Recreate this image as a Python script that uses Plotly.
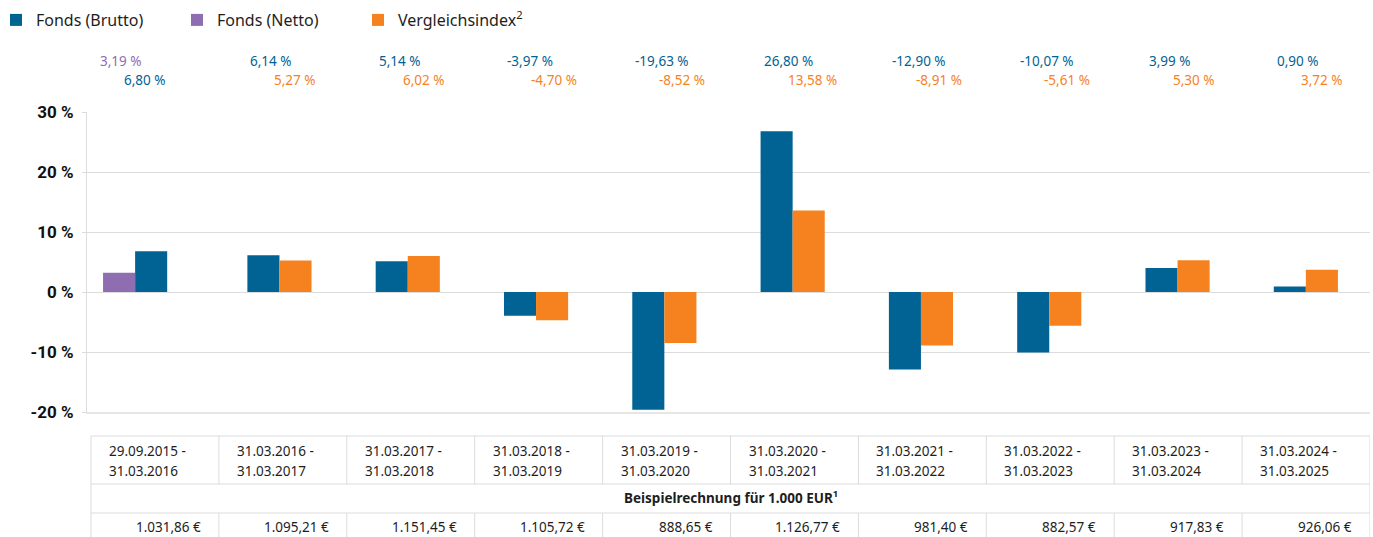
import plotly.graph_objects as go

# ---------------- data ----------------
periods = [
    "29.09.2015 - 31.03.2016", "31.03.2016 - 31.03.2017", "31.03.2017 - 31.03.2018",
    "31.03.2018 - 31.03.2019", "31.03.2019 - 31.03.2020", "31.03.2020 - 31.03.2021",
    "31.03.2021 - 31.03.2022", "31.03.2022 - 31.03.2023", "31.03.2023 - 31.03.2024",
    "31.03.2024 - 31.03.2025",
]
fonds_brutto = [6.80, 6.14, 5.14, -3.97, -19.63, 26.80, -12.90, -10.07, 3.99, 0.90]
fonds_netto = [3.19, None, None, None, None, None, None, None, None, None]
vergleichsindex = [None, 5.27, 6.02, -4.70, -8.52, 13.58, -8.91, -5.61, 5.30, 3.72]
beispiel_werte = [1031.86, 1095.21, 1151.45, 1105.72, 888.65, 1126.77, 981.40, 882.57, 917.83, 926.06]
y_ticks = [-20, -10, 0, 10, 20, 30]
series_names = ["Fonds (Brutto)", "Fonds (Netto)", "Vergleichsindex<sup>2</sup>"]
table_title = "Beispielrechnung für 1.000 EUR<sup>1</sup>"

# ---------------- style ----------------
W, H = 1373, 537
L, R, T, B = 87, 3, 112, 125
PLOT_W = W - L - R
PLOT_H = H - T - B
BLUE = "#006394"
PURPLE = "#8E6EB0"
ORANGE = "#F5821F"
GRID = "#dcdcdc"
TEXT = "#1e1e1e"
FONT = "Noto Sans"
BAR_W = 0.25
TBL_LEFT_PX, TBL_RIGHT_PX = 91, 1370


def py(px):
    """pixel y (from top) -> paper y"""
    return (H - B - px) / PLOT_H


def px_x(px):
    """pixel x (from left) -> paper x"""
    return (px - L) / PLOT_W


n = len(periods)
xs = list(range(n))
CAT_PX = PLOT_W / n
COL_PX = (TBL_RIGHT_PX - TBL_LEFT_PX) / n


def tx(u, dpx=0.0):
    """table column coordinate (column i spans u in [i-0.5, i+0.5]) -> x data units"""
    px = TBL_LEFT_PX + (u + 0.5) * COL_PX + dpx
    return (px - L) / CAT_PX - 0.5


def de_num(v, dec=2):
    s = f"{v:,.{dec}f}"
    return s.replace(",", "X").replace(".", ",").replace("X", ".")


off_b, off_n, off_i = [], [], []
for i in range(n):
    if fonds_netto[i] is not None:
        off_n.append(-1.5 * BAR_W)
        off_b.append(-0.5 * BAR_W)
        off_i.append(0.5 * BAR_W)
    else:
        off_n.append(-1.5 * BAR_W)
        off_b.append(-BAR_W)
        off_i.append(0.0)

fig = go.Figure()
fig.add_trace(go.Bar(x=xs, y=fonds_brutto, name=series_names[0], marker_color=BLUE,
                     width=BAR_W, offset=off_b, marker_line_width=0))
fig.add_trace(go.Bar(x=xs, y=fonds_netto, name=series_names[1], marker_color=PURPLE,
                     width=BAR_W, offset=off_n, marker_line_width=0))
fig.add_trace(go.Bar(x=xs, y=vergleichsindex, name=series_names[2], marker_color=ORANGE,
                     width=BAR_W, offset=off_i, marker_line_width=0))

annotations = []
shapes = []

# value labels above the chart
for i in range(n):
    labels = []
    if fonds_netto[i] is not None:
        labels.append((fonds_netto[i], PURPLE))
    if fonds_brutto[i] is not None:
        labels.append((fonds_brutto[i], BLUE))
    if vergleichsindex[i] is not None:
        labels.append((vergleichsindex[i], ORANGE))
    if fonds_netto[i] is not None:
        px_offs = [-53, -29]
    else:
        px_offs = [-31, -7]
    rows_y = [61, 80]
    for k, (v, c) in enumerate(labels[:2]):
        annotations.append(dict(
            x=i + px_offs[k] / CAT_PX, y=py(rows_y[k]), xref="x", yref="paper",
            text=de_num(v) + " %", showarrow=False, xanchor="left", yanchor="middle",
            font=dict(family=FONT, size=13.5, color=c)))

# ---------------- table ----------------
TBL_TOP, ROW1, ROW2, TBL_BOT = 436, 484, 513, 545
line = dict(color=GRID, width=1)
for yy in [TBL_TOP, ROW1, ROW2]:
    shapes.append(dict(type="line", xref="x", yref="paper", x0=tx(-0.5), x1=tx(n - 0.5),
                       y0=py(yy), y1=py(yy), line=line))
for u in [-0.5, n - 0.5]:
    shapes.append(dict(type="line", xref="x", yref="paper", x0=tx(u), x1=tx(u),
                       y0=py(TBL_TOP), y1=py(TBL_BOT), line=line))
for i in range(1, n):
    u = i - 0.5
    shapes.append(dict(type="line", xref="x", yref="paper", x0=tx(u), x1=tx(u),
                       y0=py(TBL_TOP), y1=py(ROW1), line=line))
    shapes.append(dict(type="line", xref="x", yref="paper", x0=tx(u), x1=tx(u),
                       y0=py(ROW2), y1=py(TBL_BOT), line=line))

cell_font = dict(family=FONT, size=13.5, color=TEXT)
for i in range(n):
    a, b = periods[i].split(" - ")
    annotations.append(dict(x=tx(i - 0.5, 16), y=py(451), xref="x", yref="paper",
                            text=a + " -", showarrow=False, xanchor="left", yanchor="middle",
                            font=cell_font))
    annotations.append(dict(x=tx(i - 0.5, 16), y=py(471), xref="x", yref="paper",
                            text=b, showarrow=False, xanchor="left", yanchor="middle",
                            font=cell_font))
    annotations.append(dict(x=tx(i + 0.5, -16), y=py(527), xref="x", yref="paper",
                            text=de_num(beispiel_werte[i]) + " €", showarrow=False,
                            xanchor="right", yanchor="middle", font=cell_font))
annotations.append(dict(x=tx((n - 1) / 2), y=py(497), xref="x", yref="paper",
                        text="<b>" + table_title + "</b>", showarrow=False,
                        xanchor="center", yanchor="middle", font=cell_font))

fig.update_layout(
    width=W, height=H,
    margin=dict(l=L, r=R, t=T, b=B, autoexpand=False),
    paper_bgcolor="white", plot_bgcolor="white",
    barmode="overlay",
    font=dict(family=FONT, color=TEXT),
    showlegend=True,
    legend=dict(orientation="h", xref="paper", yref="paper",
                x=px_x(-4), xanchor="left", y=py(20), yanchor="middle",
                entrywidth=136, traceorder="normal",
                font=dict(family=FONT, size=16, color=TEXT),
                itemclick=False, itemdoubleclick=False),
    xaxis=dict(range=[-0.5, n - 0.5], showticklabels=False, showgrid=False, zeroline=False,
               ticks="", showline=True, linecolor="#e6e6e6", linewidth=2, fixedrange=True,
               automargin=False),
    yaxis=dict(range=[-20, 30], tickvals=y_ticks, ticktext=[f"<b>{v} %</b>" for v in y_ticks],
               tickfont=dict(family="Roboto", size=17, color="#111"),
               showgrid=True, gridcolor=GRID, gridwidth=1,
               zeroline=True, zerolinecolor=GRID, zerolinewidth=1,
               showline=True, linecolor=GRID, linewidth=1,
               ticks="outside", ticklen=4, tickcolor=GRID, ticklabelstandoff=5,
               fixedrange=True, automargin=False),
    annotations=annotations,
    shapes=shapes,
)

fig.write_html("out.html", config={"displayModeBar": False},
               post_script="document.body.style.margin='0';document.body.style.overflow='hidden';")
